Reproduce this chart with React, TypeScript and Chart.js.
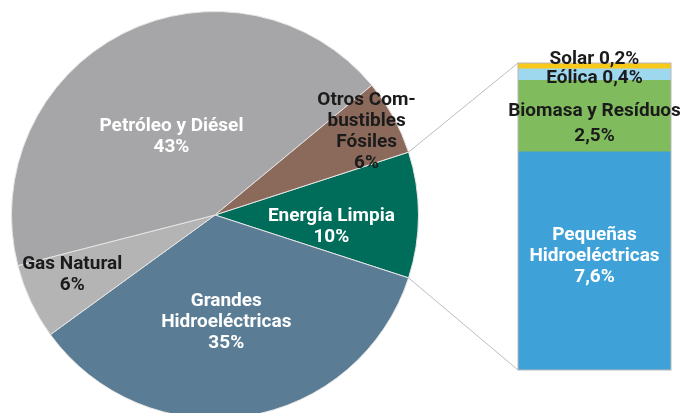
import React, { useEffect, useRef } from 'react';
import { Chart, registerables } from 'chart.js';

Chart.register(...registerables);

// ---- data ----
const categories = ['Energía Limpia', 'Grandes Hidroeléctricas', 'Gas Natural', 'Petróleo y Diésel', 'Otros Combustibles Fósiles'];
const shares = [10, 35, 6, 43, 6];
const cleanParts = ['Pequeñas Hidroeléctricas', 'Biomasa y Resíduos', 'Eólica', 'Solar'];
const cleanShares = [7.6, 2.5, 0.4, 0.2];

// ---- style ----
const pieColors = ['#006d5b', '#5a7c95', '#b3b4b3', '#a6a6a8', '#8b6a5b'];
const pieTextColors = ['#ffffff', '#ffffff', '#1b1b1b', '#ffffff', '#1b1b1b'];
const pieLabelLines = [['Energía Limpia'], ['Grandes', 'Hidroeléctricas'], ['Gas Natural'], ['Petróleo y Diésel'], ['Otros Com-', 'bustibles', 'Fósiles']];
const pieLabelPos = [[0.575, 6], [0.53, 3], [0.76, 2.6], [0.44, -2.1], [0.85, 0]]; // [radius factor, angle offset deg]
const barColors = ['#3ea2d8', '#80bb5d', '#9dd8ef', '#f8c918'];
const barTextColors = ['#ffffff', '#1b1b1b', '#1b1b1b', '#1b1b1b'];
const barLabelLines = [['Pequeñas', 'Hidroeléctricas'], ['Biomasa y Resíduos'], ['Eólica'], ['Solar']];
const barLabelInline = [false, false, true, true];
const barLabelDy = [-5, 7.5, 4, -7];
const barLineH = [21, 25, 21, 21];
const FONT = 'bold 19px Roboto';
const LINE_H = 21;

const W = 690;
const H = 430;

const fmt = (v: number) => String(v).replace('.', ',') + '%';

function drawLines(ctx: CanvasRenderingContext2D, lines: string[], x: number, y: number, lh: number, color: string) {
  ctx.save();
  ctx.font = FONT;
  ctx.fillStyle = color;
  ctx.textAlign = 'center';
  ctx.textBaseline = 'middle';
  const top = y - ((lines.length - 1) * lh) / 2;
  lines.forEach((l, i) => ctx.fillText(l, x, top + i * lh));
  ctx.restore();
}

export default function App() {
  const pieRef = useRef<HTMLCanvasElement>(null);
  const barRef = useRef<HTMLCanvasElement>(null);

  useEffect(() => {
    const pieLabelPlugin = {
      id: 'pieLabels',
      afterDatasetsDraw(chart: any) {
        const ctx = chart.ctx;
        const meta = chart.getDatasetMeta(0);
        meta.data.forEach((arc: any, i: number) => {
          const mid = (arc.startAngle + arc.endAngle) / 2 + (pieLabelPos[i][1] * Math.PI) / 180;
          const r = arc.outerRadius * pieLabelPos[i][0];
          const x = arc.x + r * Math.cos(mid);
          const y = arc.y + r * Math.sin(mid);
          drawLines(ctx, [...pieLabelLines[i], `${shares[i]}%`], x, y, LINE_H, pieTextColors[i]);
        });
      },
    };

    const pie = new Chart(pieRef.current!, {
      type: 'pie',
      data: {
        labels: categories,
        datasets: [{ data: shares, backgroundColor: pieColors, borderColor: '#e4e4e4', borderWidth: 1 }],
      },
      options: {
        responsive: false,
        animation: false,
        rotation: 72,
        layout: { padding: { left: 11, top: 11, right: 271, bottom: 11 } },
        plugins: { legend: { display: false }, tooltip: { enabled: false } },
      } as any,
      plugins: [pieLabelPlugin],
    });

    const barPlugin = {
      id: 'barExtras',
      beforeDatasetsDraw(chart: any) {
        const ctx = chart.ctx;
        const arc: any = pie.getDatasetMeta(0).data[0];
        const metaTop = chart.getDatasetMeta(cleanShares.length - 1).data[0];
        const metaBot = chart.getDatasetMeta(0).data[0];
        const left = metaBot.x - metaBot.width / 2;
        const R = arc.outerRadius;
        ctx.save();
        ctx.strokeStyle = '#bdbdbd';
        ctx.lineWidth = 1;
        ctx.beginPath();
        ctx.moveTo(arc.x + R * Math.cos(arc.startAngle), arc.y + R * Math.sin(arc.startAngle));
        ctx.lineTo(left, metaTop.y);
        ctx.moveTo(arc.x + R * Math.cos(arc.endAngle), arc.y + R * Math.sin(arc.endAngle));
        ctx.lineTo(left, metaBot.base);
        ctx.stroke();
        ctx.restore();
      },
      afterDatasetsDraw(chart: any) {
        const ctx = chart.ctx;
        const metaTop = chart.getDatasetMeta(cleanShares.length - 1).data[0];
        const metaBot = chart.getDatasetMeta(0).data[0];
        const left = metaBot.x - metaBot.width / 2;
        ctx.save();
        ctx.strokeStyle = '#b8b8b8';
        ctx.lineWidth = 1;
        ctx.strokeRect(left, metaTop.y, metaBot.width, metaBot.base - metaTop.y);
        ctx.restore();
        cleanShares.forEach((v, i) => {
          const el = chart.getDatasetMeta(i).data[0];
          const cy = (el.y + el.base) / 2 + barLabelDy[i];
          const lines = barLabelInline[i]
            ? [barLabelLines[i].join(' ') + ' ' + fmt(v)]
            : [...barLabelLines[i], fmt(v)];
          drawLines(ctx, lines, el.x, cy, barLineH[i], barTextColors[i]);
        });
      },
    };

    const bar = new Chart(barRef.current!, {
      type: 'bar',
      data: {
        labels: ['Energía Limpia'],
        datasets: cleanParts.map((name, i) => ({
          label: name,
          data: [cleanShares[i]],
          backgroundColor: barColors[i],
          borderWidth: 0,
          barPercentage: 1,
          categoryPercentage: 1,
        })),
      },
      options: {
        responsive: false,
        animation: false,
        layout: { padding: { left: 518, right: 19, top: 63, bottom: 60 } },
        scales: {
          x: { stacked: true, display: false },
          y: { stacked: true, display: false, min: 0, max: 10.7 },
        },
        plugins: { legend: { display: false }, tooltip: { enabled: false } },
      } as any,
      plugins: [barPlugin],
    });

    return () => {
      bar.destroy();
      pie.destroy();
    };
  }, []);

  return (
    <div style={{ position: 'fixed', left: 0, top: 0, width: 690, height: 413, overflow: 'hidden', background: '#fff' }}>
      <canvas ref={pieRef} width={W} height={H} style={{ position: 'absolute', left: 0, top: 0 }} />
      <canvas ref={barRef} width={W} height={H} style={{ position: 'absolute', left: 0, top: 0 }} />
    </div>
  );
}
